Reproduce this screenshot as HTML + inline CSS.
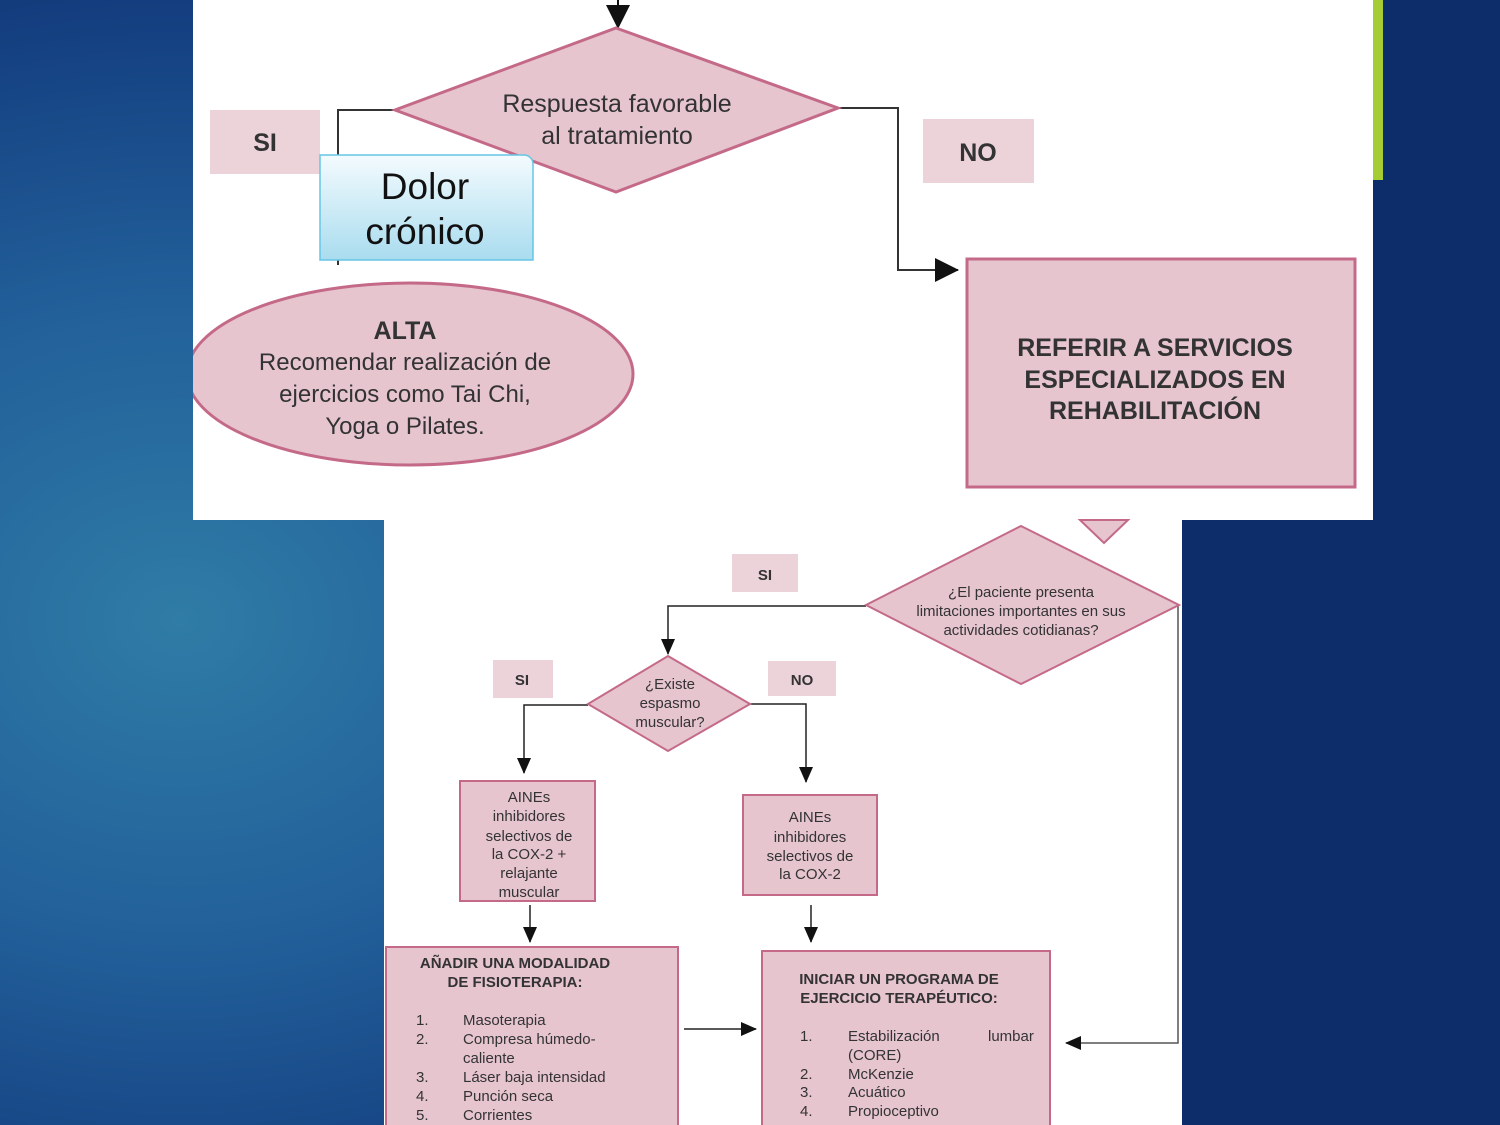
<!DOCTYPE html>
<html><head><meta charset="utf-8"><style>
html,body{margin:0;padding:0;width:1500px;height:1125px;overflow:hidden}
body{background:radial-gradient(ellipse 1000px 800px at 180px 620px,#2f7ca6 0%,#22609a 40%,#143f80 75%,#0c2c6a 100%)}
svg{position:absolute;left:0;top:0}
text{font-family:"Liberation Sans",sans-serif;fill:#333}
</style></head><body>
<svg width="1500" height="1125" viewBox="0 0 1500 1125">
<defs><linearGradient id="bl" x1="0" y1="0" x2="0" y2="1"><stop offset="0" stop-color="#f4fbfe"/><stop offset="1" stop-color="#a9dcef"/></linearGradient>
<clipPath id="cp"><rect x="193" y="0" width="1180" height="520"/></clipPath>
<marker id="arB" markerWidth="24" markerHeight="24" refX="23" refY="12" orient="auto" markerUnits="userSpaceOnUse"><path d="M0,0 L24,12 L0,24z" fill="#111"/></marker>
<marker id="arM" markerWidth="16" markerHeight="16" refX="15" refY="8" orient="auto" markerUnits="userSpaceOnUse"><path d="M0,1 L16,8 L0,15z" fill="#111"/></marker></defs>
<rect x="193" y="0" width="1180" height="520" fill="#fff"/>
<rect x="1373" y="0" width="10" height="180" fill="#a6cc34"/>
<rect x="384" y="520" width="798" height="605" fill="#fff"/>
<line x1="618" y1="0" x2="618" y2="28" stroke="#111" stroke-width="2" marker-end="url(#arB)"/>
<polyline points="395,110 338,110 338,265" fill="none" stroke="#333" stroke-width="2"/>
<polyline points="838,108 898,108 898,270 958,270" fill="none" stroke="#333" stroke-width="2" marker-end="url(#arB)"/>
<polygon points="616,28 838,108 616,192 395,110" fill="#e6c5cf" stroke="#c46a88" stroke-width="3"/>
<text x="617" y="112" font-size="25" text-anchor="middle">Respuesta favorable</text>
<text x="617" y="144" font-size="25" text-anchor="middle">al tratamiento</text>
<rect x="210" y="110" width="110" height="64" fill="#ecd3da"/>
<text x="265" y="151" font-size="25" font-weight="bold" text-anchor="middle">SI</text>
<rect x="923" y="119" width="111" height="64" fill="#ecd3da"/>
<text x="978" y="161" font-size="25" font-weight="bold" text-anchor="middle">NO</text>
<path d="M320,155 H524 a9,9 0 0 1 9,9 V260 H320z" fill="url(#bl)" stroke="#66c5e6" stroke-width="1.5"/>
<text x="425" y="199" font-size="37" text-anchor="middle" style="fill:#111">Dolor</text>
<text x="425" y="244" font-size="37" text-anchor="middle" style="fill:#111">crónico</text>
<g clip-path="url(#cp)"><ellipse cx="410" cy="374" rx="223" ry="91" fill="#e6c5cf" stroke="#c46a88" stroke-width="3"/></g>
<text x="405" y="339" font-size="25" font-weight="bold" text-anchor="middle">ALTA</text>
<text x="405" y="370" font-size="24" text-anchor="middle">Recomendar realización de</text>
<text x="405" y="402" font-size="24" text-anchor="middle">ejercicios como Tai Chi,</text>
<text x="405" y="434" font-size="24" text-anchor="middle">Yoga o Pilates.</text>
<rect x="967" y="259" width="388" height="228" fill="#e6c5cf" stroke="#c46a88" stroke-width="3"/>
<text x="1155" y="356" font-size="25" font-weight="bold" text-anchor="middle">REFERIR A SERVICIOS</text>
<text x="1155" y="388" font-size="25" font-weight="bold" text-anchor="middle">ESPECIALIZADOS EN</text>
<text x="1155" y="419" font-size="25" font-weight="bold" text-anchor="middle">REHABILITACIÓN</text>
<polygon points="1080,520 1128,520 1104,543" fill="#e6c5cf" stroke="#c46a88" stroke-width="2"/>
<polyline points="866,606 668,606 668,654" fill="none" stroke="#222" stroke-width="1.5" marker-end="url(#arM)"/>
<polyline points="1178,606 1178,1043 1066,1043" fill="none" stroke="#555" stroke-width="1.5" marker-end="url(#arM)"/>
<polygon points="1021,526 1179,605 1021,684 866,605" fill="#e6c5cf" stroke="#c46a88" stroke-width="2"/>
<text x="1021" y="597" font-size="15" text-anchor="middle">¿El paciente presenta</text>
<text x="1021" y="616" font-size="15" text-anchor="middle">limitaciones importantes en sus</text>
<text x="1021" y="635" font-size="15" text-anchor="middle">actividades cotidianas?</text>
<rect x="732" y="554" width="66" height="38" fill="#ecd3da"/>
<text x="765" y="580" font-size="15" font-weight="bold" text-anchor="middle">SI</text>
<polyline points="588,705 524,705 524,773" fill="none" stroke="#222" stroke-width="1.5" marker-end="url(#arM)"/>
<polyline points="750,704 806,704 806,782" fill="none" stroke="#222" stroke-width="1.5" marker-end="url(#arM)"/>
<polygon points="668,656 750,704 668,751 588,704" fill="#e6c5cf" stroke="#c46a88" stroke-width="2"/>
<text x="670" y="689" font-size="15" text-anchor="middle">¿Existe</text>
<text x="670" y="708" font-size="15" text-anchor="middle">espasmo</text>
<text x="670" y="727" font-size="15" text-anchor="middle">muscular?</text>
<rect x="493" y="660" width="60" height="38" fill="#ecd3da"/>
<text x="522" y="685" font-size="15" font-weight="bold" text-anchor="middle">SI</text>
<rect x="768" y="661" width="68" height="35" fill="#ecd3da"/>
<text x="802" y="685" font-size="15" font-weight="bold" text-anchor="middle">NO</text>
<rect x="460" y="781" width="135" height="120" fill="#e6c5cf" stroke="#c46a88" stroke-width="2"/>
<g font-size="15" text-anchor="middle"><text x="529" y="802">AINEs</text><text x="529" y="821">inhibidores</text><text x="529" y="841">selectivos de</text><text x="529" y="859">la COX-2 +</text><text x="529" y="878">relajante</text><text x="529" y="897">muscular</text></g>
<rect x="743" y="795" width="134" height="100" fill="#e6c5cf" stroke="#c46a88" stroke-width="2"/>
<g font-size="15" text-anchor="middle"><text x="810" y="822">AINEs</text><text x="810" y="842">inhibidores</text><text x="810" y="861">selectivos de</text><text x="810" y="879">la COX-2</text></g>
<line x1="530" y1="905" x2="530" y2="942" stroke="#222" stroke-width="1.5" marker-end="url(#arM)"/>
<line x1="811" y1="905" x2="811" y2="942" stroke="#222" stroke-width="1.5" marker-end="url(#arM)"/>
<line x1="684" y1="1029" x2="756" y2="1029" stroke="#222" stroke-width="1.5" marker-end="url(#arM)"/>
<rect x="386" y="947" width="292" height="190" fill="#e6c5cf" stroke="#c46a88" stroke-width="2"/>
<text x="515" y="968" font-size="15" font-weight="bold" text-anchor="middle">AÑADIR UNA MODALIDAD</text>
<text x="515" y="987" font-size="15" font-weight="bold" text-anchor="middle">DE FISIOTERAPIA:</text>
<g font-size="15"><text x="416" y="1025">1.</text><text x="463" y="1025">Masoterapia</text><text x="416" y="1044">2.</text><text x="463" y="1044">Compresa húmedo-</text><text x="463" y="1063">caliente</text><text x="416" y="1082">3.</text><text x="463" y="1082">Láser baja intensidad</text><text x="416" y="1101">4.</text><text x="463" y="1101">Punción seca</text><text x="416" y="1120">5.</text><text x="463" y="1120">Corrientes</text></g>
<rect x="762" y="951" width="288" height="190" fill="#e6c5cf" stroke="#c46a88" stroke-width="2"/>
<text x="899" y="984" font-size="15" font-weight="bold" text-anchor="middle">INICIAR UN PROGRAMA DE</text>
<text x="899" y="1003" font-size="15" font-weight="bold" text-anchor="middle">EJERCICIO TERAPÉUTICO:</text>
<g font-size="15"><text x="800" y="1041">1.</text><text x="848" y="1041">Estabilización</text><text x="988" y="1041">lumbar</text><text x="848" y="1060">(CORE)</text><text x="800" y="1079">2.</text><text x="848" y="1079">McKenzie</text><text x="800" y="1097">3.</text><text x="848" y="1097">Acuático</text><text x="800" y="1116">4.</text><text x="848" y="1116">Propioceptivo</text></g>
</svg>
</body></html>
